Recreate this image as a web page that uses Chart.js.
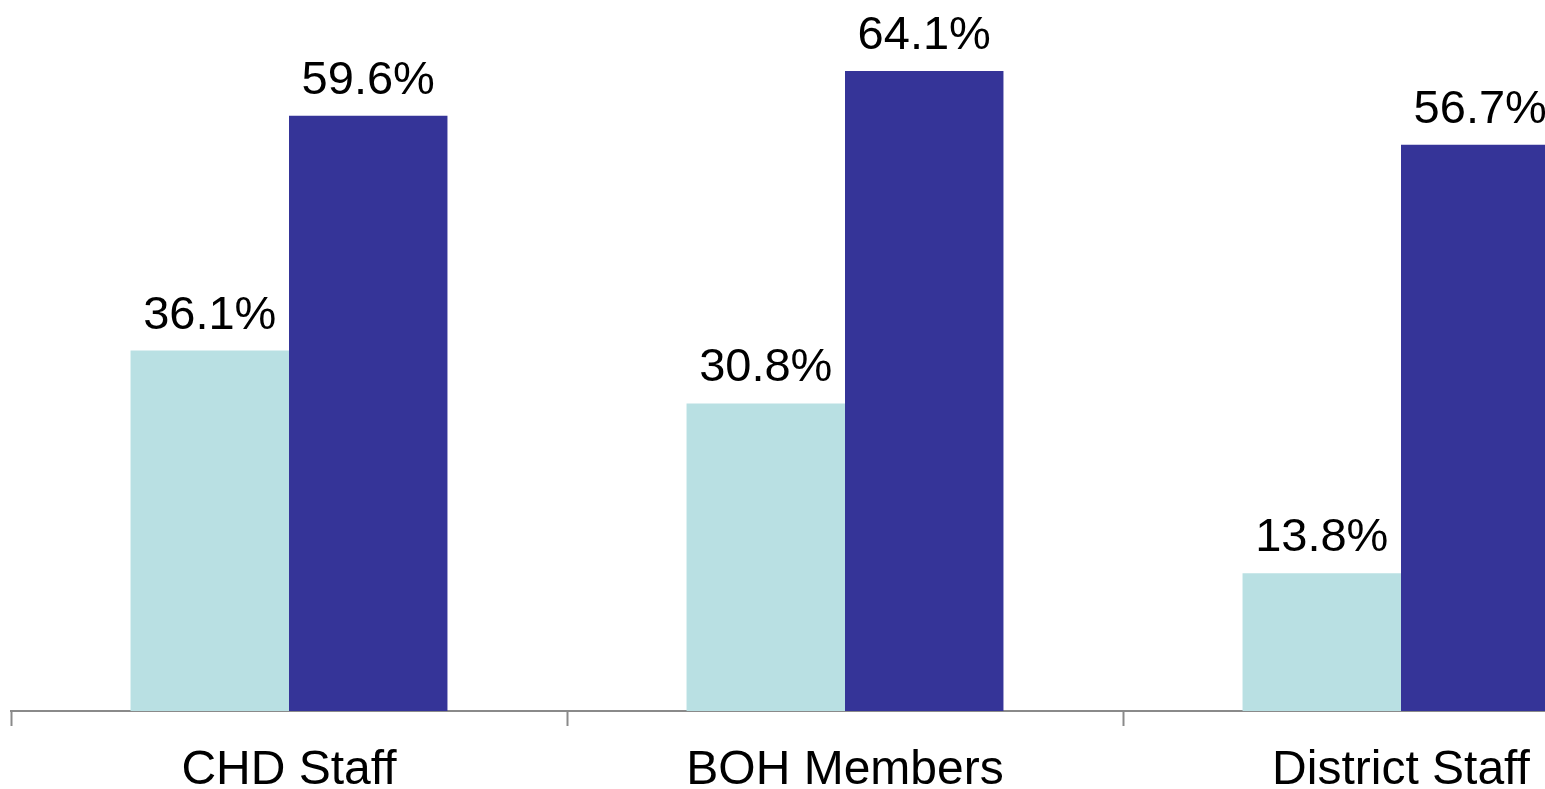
<!DOCTYPE html>
<html>
<head>
<meta charset="utf-8">
<script src="https://cdn.jsdelivr.net/npm/chart.js@4.4.1/dist/chart.umd.min.js"></script>
<style>
  html, body { margin: 0; padding: 0; background: #fff; overflow: hidden; }
  #wrap { position: absolute; left: 0; top: 0; width: 1700px; height: 820px; }
</style>
</head>
<body>
<div id="wrap"><canvas id="chart"></canvas></div>
<script>
// Chart data
const categories = ['CHD Staff', 'BOH Members', 'District Staff'];
const seriesA = [36.1, 30.8, 13.8];
const seriesB = [59.6, 64.1, 56.7];

const lightColor = '#B9E0E3';
const darkColor = '#353498';

// Draws the value labels above each bar
const valueLabels = {
    id: 'valueLabels',
    afterDatasetsDraw(chart) {
        const ctx = chart.ctx;
        ctx.save();
        ctx.font = '47px "Liberation Sans", Arial, sans-serif';
        ctx.fillStyle = '#000';
        ctx.textAlign = 'center';
        ctx.textBaseline = 'alphabetic';
        chart.data.datasets.forEach((ds, i) => {
            chart.getDatasetMeta(i).data.forEach((bar, j) => {
                ctx.fillText(ds.data[j].toFixed(1) + '%', bar.x, bar.y - 22);
            });
        });
        ctx.restore();
    }
};

const ctx = document.getElementById('chart').getContext('2d');
new Chart(ctx, {
    type: 'bar',
    data: {
        labels: categories,
        datasets: [
            { data: seriesA, backgroundColor: lightColor },
            { data: seriesB, backgroundColor: darkColor }
        ]
    },
    options: {
        responsive: true,
        maintainAspectRatio: false,
        animation: false,
        layout: { padding: { left: 11, right: 21, top: 12, bottom: 4.4 } },
        datasets: { bar: { barPercentage: 1, categoryPercentage: 0.57 } },
        plugins: { legend: { display: false }, tooltip: { enabled: false } },
        scales: {
            x: {
                grid: {
                    offset: true,
                    drawOnChartArea: false,
                    drawTicks: true,
                    tickLength: 15,
                    tickWidth: 2,
                    tickColor: '#8a8a8a'
                },
                border: { display: true, color: '#8a8a8a', width: 2 },
                ticks: {
                    color: '#000',
                    padding: 16,
                    font: { family: '"Liberation Sans", Arial, sans-serif', size: 48 }
                }
            },
            y: {
                display: false,
                min: 0,
                max: 70
            }
        }
    },
    plugins: [valueLabels]
});
</script>
</body>
</html>
